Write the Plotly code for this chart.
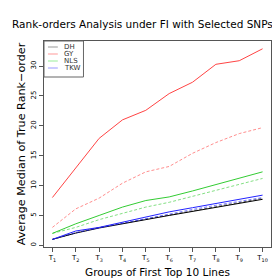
import plotly.graph_objects as go

groups = [1, 2, 3, 4, 5, 6, 7, 8, 9, 10]
group_labels = ["T<sub>%d</sub>" % i for i in groups]

DH = [1.0, 2.05, 2.9, 3.55, 4.3, 5.0, 5.7, 6.4, 7.05, 7.7]
DH_sel = [1.0, 2.1, 3.0, 3.7, 4.4, 5.1, 5.8, 6.5, 7.2, 7.85]
GY = [8.0, 12.9, 17.9, 21.0, 22.6, 25.4, 27.3, 30.3, 30.9, 32.9]
GY_sel = [3.0, 6.1, 7.9, 10.4, 12.3, 13.2, 15.4, 17.2, 18.7, 19.7]
NLS = [2.0, 3.6, 5.0, 6.4, 7.5, 8.1, 9.1, 10.2, 11.2, 12.3]
NLS_sel = [2.0, 3.0, 4.3, 5.4, 6.4, 7.2, 8.2, 9.2, 10.2, 11.2]
TKW = [1.0, 2.4, 3.0, 3.9, 4.8, 5.6, 6.3, 7.0, 7.7, 8.4]
TKW_sel = [1.0, 2.1, 2.9, 3.7, 4.5, 5.3, 6.0, 6.7, 7.4, 8.0]

traits = ["DH", "GY", "NLS", "TKW"]
solid_vals = [DH, GY, NLS, TKW]
dashed_vals = [DH_sel, GY_sel, NLS_sel, TKW_sel]
colors = ["#000000", "#FF4444", "#33CC33", "#2222FF"]
legend_colors = ["#999999", "#FF9999", "#99EE99", "#9999FF"]

fig = go.Figure()
for name, sv, dv, c in zip(traits, solid_vals, dashed_vals, colors):
    fig.add_trace(go.Scatter(x=groups, y=sv, mode="lines", line=dict(color=c, width=1),
                             name=name, showlegend=False, hoverinfo="skip"))
    fig.add_trace(go.Scatter(x=groups, y=dv, mode="lines", line=dict(color=c, width=1, dash="3px,2px"),
                             name=name + " (selected)", opacity=0.6, showlegend=False, hoverinfo="skip"))

font = "DejaVu Sans"

# compact legend box drawn in paper coordinates (top-left of plot area)
plot_w, plot_h = 230.0, 206.0
shapes = [dict(type="rect", xref="paper", yref="paper", x0=0, x1=40 / plot_w,
               y0=1 - 36 / plot_h, y1=1, line=dict(color="#666666", width=1),
               fillcolor="white", layer="above")]
annotations = []
for i, (name, lc) in enumerate(zip(traits, legend_colors)):
    yy = 1 - (6 + 7 * i) / plot_h
    shapes.append(dict(type="line", xref="paper", yref="paper", x0=4 / plot_w, x1=14 / plot_w,
                       y0=yy, y1=yy, line=dict(color=lc, width=1), layer="above"))
    annotations.append(dict(text=name, xref="paper", yref="paper", x=18 / plot_w, y=yy,
                            xanchor="left", yanchor="middle", showarrow=False,
                            font=dict(size=7, family=font, color="#333333")))

fig.update_layout(
    width=280, height=280,
    margin=dict(l=33, r=17, t=33, b=41),
    paper_bgcolor="white", plot_bgcolor="white",
    font=dict(family=font, color="#000000"),
    title=dict(text="Rank-orders Analysis under FI with Selected SNPs",
               x=4 / 280, xref="container", xanchor="left", y=0.94, yanchor="middle",
               font=dict(size=10.5, family=font)),
    showlegend=False,
    shapes=shapes,
    annotations=annotations,
    xaxis=dict(range=[0.64, 10.36], tickmode="array", tickvals=groups, ticktext=group_labels,
               showgrid=False, zeroline=False, showline=True, mirror=True,
               linecolor="#555555", linewidth=1, ticks="outside", ticklen=4,
               tickcolor="#555555", tickfont=dict(size=7),
               title=dict(text="Groups of First Top 10 Lines", font=dict(size=10.5), standoff=6)),
    yaxis=dict(range=[-0.28, 34.2], tickmode="array", tickvals=[0, 5, 10, 15, 20, 25, 30],
               showgrid=False, zeroline=False, showline=True, mirror=True,
               linecolor="#555555", linewidth=1, ticks="outside", ticklen=4,
               tickcolor="#555555", tickangle=-90, tickfont=dict(size=7),
               title=dict(text="Average Median of True Rank\u2212order", font=dict(size=11.2), standoff=2)),
)

fig.write_html("out.html")
